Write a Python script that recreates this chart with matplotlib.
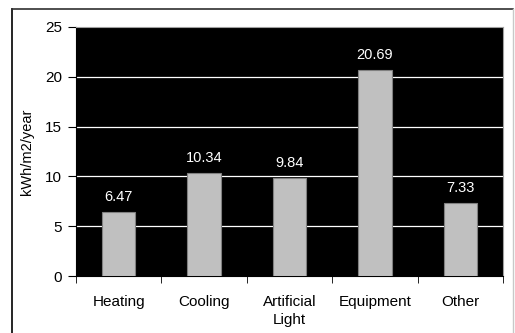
import matplotlib
matplotlib.use("Agg")
import matplotlib.pyplot as plt
from matplotlib.lines import Line2D
import numpy as np

plt.rcParams['font.family'] = ['Liberation Sans', 'DejaVu Sans']

categories = ['Heating', 'Cooling', 'Artificial\nLight', 'Equipment', 'Other']
values = [6.47, 10.34, 9.84, 20.69, 7.33]
yticks = [0, 5, 10, 15, 20, 25]

W, H = 515, 333
fig = plt.figure(figsize=(W / 100, H / 100), dpi=100)
ax = fig.add_axes([76 / W, 1 - 276 / H, (503 - 76) / W, (276 - 27) / H])
ax.set_facecolor('black')

x = np.arange(len(categories))
bars = ax.bar(x, values, width=0.39, color='#c0c0c0', edgecolor='#808080', linewidth=0.8, zorder=3)
for b, v in zip(bars, values):
    ax.text(b.get_x() + b.get_width() / 2, v + 0.8, '%.2f' % v, color='white',
            ha='center', va='bottom', fontsize=10.5, zorder=4)

ax.set_xlim(-0.5, len(categories) - 0.5)
ax.set_ylim(0, 25)
ax.set_yticks(yticks)
ax.set_yticklabels([str(t) for t in yticks], fontsize=11)
for t in yticks[1:-1]:
    ax.axhline(t, color='white', linewidth=0.9, zorder=1)

# category labels centred, ticks between categories
ax.set_xticks(x)
ax.set_xticklabels(categories, fontsize=11, linespacing=1.35)
ax.tick_params(axis='x', length=0, pad=14)
ax.set_xticks(np.arange(len(categories) + 1) - 0.5, minor=True)
ax.tick_params(axis='x', which='minor', length=5, direction='out', color='black')
ax.tick_params(axis='y', length=6, direction='out', pad=4)

for s in ['top', 'right']:
    ax.spines[s].set_color('#a0a0a0')
    ax.spines[s].set_linewidth(0.8)
ax.spines['left'].set_color('black')
ax.spines['bottom'].set_color('black')

ax.set_ylabel('kWh/m2/year', fontsize=10.5, labelpad=8)

# chart frame
fig.add_artist(Line2D([12 / W, 12 / W], [0, 1 - 9 / H], color='black', linewidth=1.2))
fig.add_artist(Line2D([12 / W, 513 / W], [1 - 9 / H, 1 - 9 / H], color='#303030', linewidth=1.2))
fig.add_artist(Line2D([513 / W, 513 / W], [0, 1 - 9 / H], color='#c8c8c8', linewidth=1.0))

fig.savefig('out.png', dpi=100)
